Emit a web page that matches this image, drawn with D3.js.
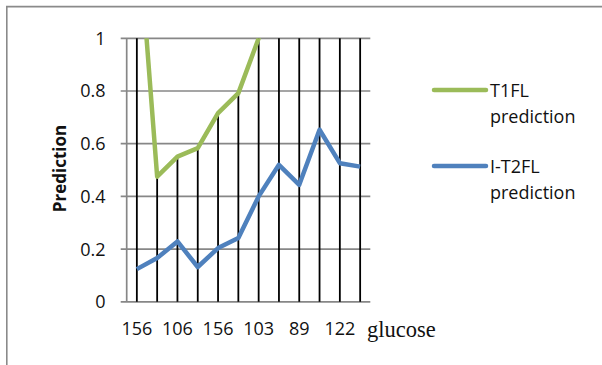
<!DOCTYPE html>
<html lang="en">
<head>
<meta charset="utf-8">
<title>Prediction by glucose</title>
<script src="https://d3js.org/d3.v7.min.js"></script>
<style>
  body { margin: 0; background: #fff; }
  svg text { font-family: 'Open Sans', 'Liberation Sans', sans-serif; fill: #111; }
</style>
</head>
<body>
<div id="chart"></div>
<script>
  // categories (only every other label is printed on the axis)
  var categories = ["156", "", "106", "", "156", "", "103", "", "89", "", "122", ""];
  // series values (T1FL goes above 1 and gets clipped by the axis)
  var t1fl = [1.48, 0.475, 0.551, 0.583, 0.716, 0.792, 1.0, 1.15, 1.2, 1.1, 1.2, 1.15];
  var it2fl = [0.124, 0.166, 0.229, 0.132, 0.204, 0.242, 0.40, 0.52, 0.444, 0.653, 0.526, 0.513];
  var yTicks = [0, 0.2, 0.4, 0.6, 0.8, 1];
  var seriesNames = ["T1FL prediction", "I-T2FL prediction"];

  var W = 602, H = 365;
  var plot = { left: 126.7, right: 370.3, top: 38.3, bottom: 301.8 };
  var green = "#9bbb59", blue = "#4f81bd", grid = "#878787";

  var svg = d3.select("#chart").append("svg")
      .attr("width", W).attr("height", H);

  // outer frame (runs off the right and bottom edges)
  svg.append("path")
      .attr("d", "M6.8,400 V6.6 H610")
      .attr("fill", "none").attr("stroke", "#8a8a8a").attr("stroke-width", 1.6);

  var x = d3.scaleBand().domain(d3.range(categories.length))
      .range([plot.left, plot.right]).paddingInner(0).paddingOuter(0);
  var y = d3.scaleLinear().domain([0, 1]).range([plot.bottom, plot.top]);
  var cx = function (i) { return x(i) + x.bandwidth() / 2; };

  svg.append("defs").append("clipPath").attr("id", "clip")
      .append("rect")
      .attr("x", plot.left - 10).attr("y", plot.top)
      .attr("width", plot.right - plot.left + 20).attr("height", plot.bottom - plot.top + 1);

  // horizontal gridlines with the small outside ticks
  svg.append("g").selectAll("line").data(yTicks).enter().append("line")
      .attr("x1", plot.left - 6).attr("x2", plot.right)
      .attr("y1", function (d) { return y(d); }).attr("y2", function (d) { return y(d); })
      .attr("stroke", grid).attr("stroke-width", 1.7);

  // value axis line
  svg.append("line")
      .attr("x1", plot.left).attr("x2", plot.left)
      .attr("y1", plot.top).attr("y2", plot.bottom)
      .attr("stroke", grid).attr("stroke-width", 1.7);

  // y tick labels
  svg.append("g").selectAll("text").data(yTicks).enter().append("text")
      .attr("x", 105.5).attr("y", function (d) { return y(d); })
      .attr("dy", "0.36em").attr("text-anchor", "end")
      .style("font-size", "18px")
      .text(function (d) { return d3.format("")(d); });

  // drop lines from the highest series down to the axis
  var g = svg.append("g").attr("clip-path", "url(#clip)");
  g.selectAll(".drop").data(categories).enter().append("line")
      .attr("class", "drop")
      .attr("x1", function (d, i) { return cx(i); })
      .attr("x2", function (d, i) { return cx(i); })
      .attr("y1", function (d, i) { return y(Math.max(t1fl[i], it2fl[i])); })
      .attr("y2", plot.bottom)
      .attr("stroke", "#000").attr("stroke-width", 1.8);

  var line = d3.line()
      .x(function (d, i) { return cx(i); })
      .y(function (d) { return y(d); });

  g.append("path").datum(t1fl)
      .attr("d", line).attr("fill", "none")
      .attr("stroke", green).attr("stroke-width", 4.5).attr("stroke-linejoin", "round");
  g.append("path").datum(it2fl)
      .attr("d", line).attr("fill", "none")
      .attr("stroke", blue).attr("stroke-width", 4.5).attr("stroke-linejoin", "round");

  // category labels
  svg.append("g").selectAll("text").data(categories).enter().append("text")
      .attr("x", function (d, i) { return cx(i); }).attr("y", 329)
      .attr("dy", "0.36em").attr("text-anchor", "middle")
      .style("font-size", "18px")
      .text(function (d) { return d; });

  svg.append("text")
      .attr("x", 367).attr("y", 337)
      .style("font-family", "'Liberation Serif', 'DejaVu Serif', serif")
      .style("font-size", "22.5px")
      .text("glucose");

  // y axis title
  svg.append("text")
      .attr("transform", "translate(65.5,168.5) rotate(-90)")
      .attr("text-anchor", "middle")
      .style("font-size", "17px").style("font-weight", "bold")
      .text("Prediction");

  // legend
  var legend = svg.append("g");
  var legendY = [90, 166];
  [green, blue].forEach(function (c, k) {
    legend.append("line")
        .attr("x1", 434).attr("x2", 486)
        .attr("y1", legendY[k]).attr("y2", legendY[k])
        .attr("stroke", c).attr("stroke-width", 4.5).attr("stroke-linecap", "round");
    var words = seriesNames[k].split(" ");
    legend.append("text")
        .attr("x", 490).attr("y", legendY[k] + 6.5)
        .style("font-size", "18px")
        .text(words[0]);
    legend.append("text")
        .attr("x", 490).attr("y", legendY[k] + 32.5)
        .style("font-size", "18px")
        .text(words[1]);
  });
</script>
</body>
</html>
